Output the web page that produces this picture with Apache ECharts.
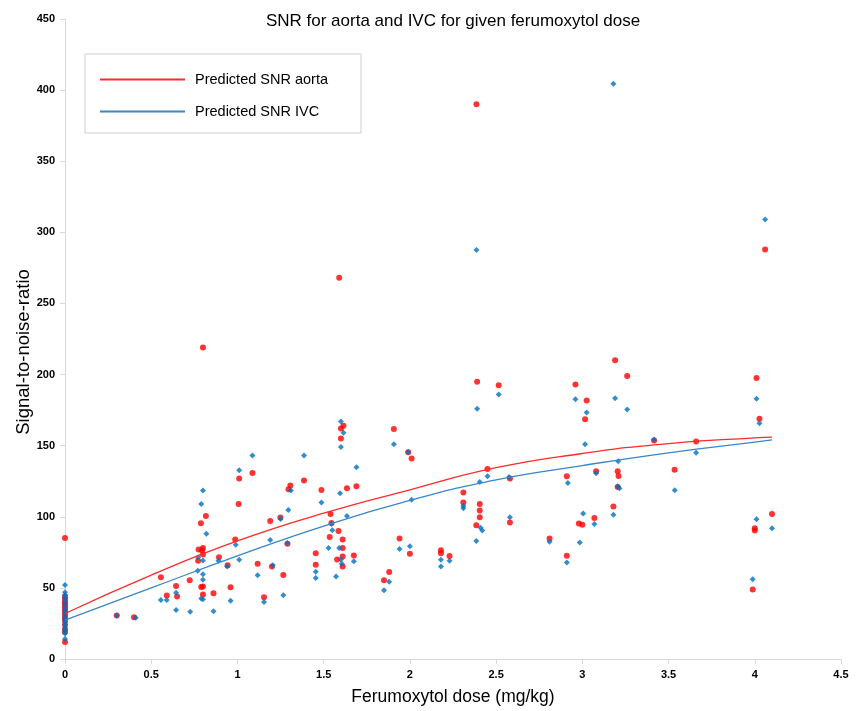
<!DOCTYPE html>
<html>
<head>
<meta charset="utf-8">
<script src="https://cdn.jsdelivr.net/npm/echarts@6/dist/echarts.min.js"></script>
<style>
html,body{margin:0;padding:0;background:#fff;overflow:hidden;}
#chart{width:861px;height:711px;}
</style>
</head>
<body>
<div id="chart"></div>
<script>
// ---- Data ----
const titleText = 'SNR for aorta and IVC for given ferumoxytol dose';
const xAxisName = 'Ferumoxytol dose (mg/kg)';
const yAxisName = 'Signal-to-noise-ratio';
const xTicks = [0, 0.5, 1, 1.5, 2, 2.5, 3, 3.5, 4, 4.5];
const yTicks = [0, 50, 100, 150, 200, 250, 300, 350, 400, 450];

// Measured SNR in aorta: [dose, SNR]
const aortaPoints = [
  [0,85],[0,44],[0,42],[0,40],[0,38.5],[0,37],[0,35],[0,33],[0,31],[0,29],[0,27],[0,24],[0,21],[0,19],[0,12],
  [0.30,30.6],[0.40,29.4],[0.556,57.4],[0.59,44.6],[0.644,51.3],[0.65,44],[0.723,55.3],
  [0.775,77],[0.772,69],[0.788,95.5],[0.80,78],[0.795,76.5],[0.80,73.5],[0.79,50.6],[0.80,51],[0.80,45.3],
  [0.817,100.6],[0.80,219],[0.861,46.2],[0.893,71.6],[0.943,66],[0.96,50.4],[0.987,84],[1.007,109],[1.01,127],
  [1.087,130.8],[1.117,67],[1.154,43.4],[1.19,97],[1.2,65],[1.249,99.5],[1.266,59],[1.29,81],[1.296,119.3],
  [1.307,122],[1.386,125.5],[1.454,74.3],[1.454,66.2],[1.487,118.8],[1.54,102],[1.535,85.8],[1.545,95.6],
  [1.578,70],[1.586,90],[1.60,162],[1.615,164],[1.60,155],[1.61,84],[1.61,78],[1.61,72],[1.61,65],[1.59,268],
  [1.635,120],[1.69,121.5],[1.675,72.7],[1.85,55.3],[1.88,61.1],[1.907,161.8],[1.94,84.8],[1.99,145.3],
  [2.01,141],[2.0,74],[2.18,76.4],[2.18,74.3],[2.23,72.4],[2.31,117],[2.31,110],[2.386,390],[2.39,195],
  [2.385,94],[2.405,109],[2.405,104.4],[2.405,99.7],[2.45,133.6],[2.515,192.4],[2.58,127],[2.58,96],
  [2.81,84.8],[2.91,128.5],[2.91,72.6],[2.96,193],[2.98,95.3],[3.0,94.4],[3.016,168.5],[3.025,181.7],
  [3.07,99.2],[3.08,132],[3.18,107.2],[3.19,210],[3.205,132],[3.21,128.6],[3.205,121],[3.26,199],
  [3.416,153.6],[3.535,133],[3.66,153],[3.988,48.8],[4.0,92],[4.0,90.3],[4.01,197.5],[4.027,169],
  [4.06,288],[4.10,102]
];

// Measured SNR in IVC: [dose, SNR]
const ivcPoints = [
  [0,52],[0,47],[0,45],[0,43],[0,41],[0,38],[0,35],[0,33],[0,30],[0,28],[0,26],[0,24],[0,22],[0,20],[0,18],[0,14],
  [0.30,30.6],[0.41,29],[0.556,41.4],[0.59,41.4],[0.644,46.5],[0.644,34.4],[0.726,33.2],[0.77,62],[0.772,71.6],
  [0.79,109],[0.80,118.5],[0.80,69.3],[0.80,59.6],[0.80,55.8],[0.79,42.6],[0.80,42],[0.82,88],[0.861,33.5],
  [0.89,69],[0.94,65],[0.96,41],[0.99,80.3],[1.01,69.7],[1.01,132.7],[1.087,143],[1.117,58.8],[1.154,40],
  [1.19,83.7],[1.205,66],[1.25,98.5],[1.266,44.8],[1.29,81.5],[1.295,104.8],[1.31,118.5],[1.386,143],
  [1.454,61.3],[1.454,57],[1.487,110],[1.528,78],[1.545,95],[1.55,90.5],[1.572,58],[1.59,78],[1.595,116.5],
  [1.60,167],[1.615,159],[1.60,149],[1.60,70],[1.605,67],[1.635,100.6],[1.69,134.8],[1.675,68.8],
  [1.85,48.3],[1.88,54.4],[1.907,151],[1.94,77.4],[1.99,145.5],[2.01,112],[2.0,79.3],[2.18,69.7],[2.18,65],
  [2.23,69],[2.31,107.5],[2.31,106],[2.385,83],[2.39,176],[2.386,287.5],[2.405,124.5],[2.41,92.3],[2.42,90.4],
  [2.45,128.5],[2.515,186],[2.575,128],[2.58,99.7],[2.81,82.5],[2.916,123.8],[2.91,67.8],[2.96,182.7],
  [2.985,82],[3.005,102.3],[3.016,151],[3.025,173.4],[3.07,95],[3.08,130.6],[3.18,101.5],[3.18,404.5],
  [3.19,183.4],[3.208,139],[3.205,121.5],[3.215,120],[3.26,175.5],[3.416,154.3],[3.536,118.7],[3.66,145],
  [3.988,56],[4.01,98.3],[4.01,183],[4.027,165.7],[4.06,309],[4.10,92]
];

// Predicted curves: [dose, SNR]
const predAorta = [[0,32],[0.5,59],[1,83],[1.5,102.5],[2,119],[2.5,134.5],[3,144.5],[3.5,151.5],[4,155.5],[4.1,156]];
const predIVC   = [[0,27.4],[0.5,50],[1,72.5],[1.5,93.5],[2,111.5],[2.5,126],[3,136],[3.5,145],[4,152.5],[4.1,154]];

const seriesNames = ['Predicted SNR aorta', 'Predicted SNR IVC', 'SNR aorta', 'SNR IVC'];

// ---- Chart ----
const chart = echarts.init(document.getElementById('chart'), null, {renderer: 'canvas', width: 861, height: 711});
const FONT = '"Liberation Sans", Arial, sans-serif';
const axisGray = '#d9d9d9';

chart.setOption({
  backgroundColor: '#ffffff',
  animation: false,
  title: {
    text: titleText,
    left: 448, top: 8,
    textAlign: 'center',
    textStyle: {fontFamily: FONT, fontSize: 17, fontWeight: 'normal', color: '#000'}
  },
  grid: {left: 65, top: 19, width: 776, height: 645, containLabel: false},
  graphic: [{
    type: 'rect',
    shape: {x: 85, y: 54, width: 276, height: 79},
    style: {fill: '#fff', stroke: '#cfcfcf', lineWidth: 1},
    z: 1
  }, {
    type: 'text',
    x: 24, y: 352,
    rotation: Math.PI / 2,
    style: {
      text: yAxisName,
      font: '18.5px "Liberation Sans", Arial, sans-serif',
      fill: '#000',
      textAlign: 'center',
      textVerticalAlign: 'middle'
    },
    z: 5
  }],
  legend: {
    data: [seriesNames[0], seriesNames[1]],
    orient: 'vertical',
    left: 95, top: 67,
    itemWidth: 85, itemHeight: 2,
    itemGap: 17,
    icon: 'rect',
    z: 5,
    textStyle: {fontFamily: FONT, fontSize: 14.5, color: '#000', padding: [0, 0, 0, 5]}
  },
  xAxis: {
    type: 'value',
    min: 0, max: 4.5, interval: 0.5,
    name: xAxisName,
    nameLocation: 'middle',
    nameGap: 29,
    nameTextStyle: {fontFamily: FONT, fontSize: 17.5, color: '#000'},
    axisLine: {show: true, onZero: false, lineStyle: {color: axisGray, width: 1}},
    axisTick: {show: true, length: 5, lineStyle: {color: axisGray}},
    axisLabel: {fontFamily: FONT, fontSize: 11, fontWeight: 'bold', color: '#000', margin: 10,
      formatter: v => xTicks.includes(+v.toFixed(2)) ? String(+v.toFixed(2)) : ''},
    splitLine: {show: false}
  },
  yAxis: {
    type: 'value',
    min: 0, max: 450, interval: 50,
    axisLine: {show: true, lineStyle: {color: axisGray, width: 1}},
    axisTick: {show: true, length: 5, lineStyle: {color: axisGray}},
    axisLabel: {fontFamily: FONT, fontSize: 11, fontWeight: 'bold', color: '#000', margin: 10,
      formatter: v => yTicks.includes(v) ? String(v) : ''},
    splitLine: {show: false}
  },
  series: [
    {
      name: seriesNames[2], type: 'scatter', data: aortaPoints,
      symbol: 'circle', symbolSize: 6,
      itemStyle: {color: '#ff0000'}, z: 2
    },
    {
      name: seriesNames[3], type: 'scatter', data: ivcPoints,
      symbol: 'diamond', symbolSize: 6,
      itemStyle: {color: '#0070c0'}, z: 3
    },
    {
      name: seriesNames[0], type: 'line', data: predAorta,
      smooth: true, showSymbol: false, symbol: 'none',
      lineStyle: {color: '#ff2a2a', width: 1.3},
      itemStyle: {color: '#ff2a2a'}, z: 4
    },
    {
      name: seriesNames[1], type: 'line', data: predIVC,
      smooth: true, showSymbol: false, symbol: 'none',
      lineStyle: {color: '#3a86c8', width: 1.3},
      itemStyle: {color: '#3a86c8'}, z: 4
    }
  ]
});
</script>
</body>
</html>
